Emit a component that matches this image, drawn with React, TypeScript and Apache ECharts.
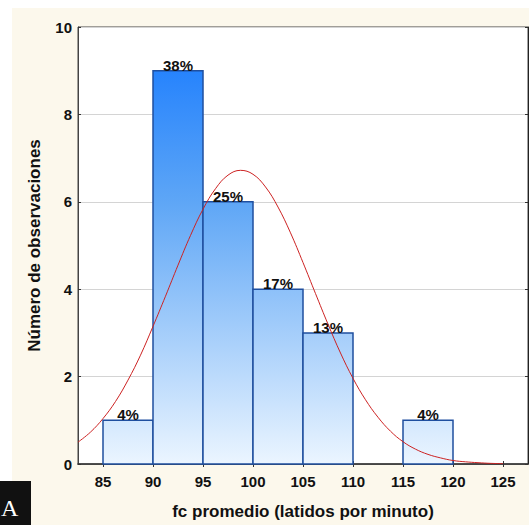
import React, { useEffect, useRef } from "react";
import * as echarts from "echarts";

const binLow = [85, 90, 95, 100, 105, 110, 115];
const binHigh = [90, 95, 100, 105, 110, 115, 120];
const counts = [1, 9, 6, 4, 3, 0, 1];
const pctLabels = ["4%", "38%", "25%", "17%", "13%", "", "4%"];
const xTicks = [85, 90, 95, 100, 105, 110, 115, 120, 125];
const curveX = [
  82.5, 83.75, 85, 86.25, 87.5, 88.75, 90, 91.25, 92.5, 93.75, 95, 96.25, 97.5, 98.75,
  100, 101.25, 102.5, 103.75, 105, 106.25, 107.5, 108.75, 110, 111.25, 112.5, 113.75,
  115, 116.25, 117.5, 118.75, 120, 121.25, 122.5, 123.75, 125,
];
const curveY = [
  0.5, 0.73, 1.04, 1.43, 1.92, 2.49, 3.15, 3.84, 4.55, 5.23, 5.83, 6.3, 6.61, 6.72,
  6.63, 6.34, 5.88, 5.29, 4.61, 3.9, 3.2, 2.54, 1.96, 1.47, 1.07, 0.75,
  0.51, 0.34, 0.22, 0.14, 0.08, 0.05, 0.03, 0.015, 0.008,
];

const FONT = "'Liberation Sans', Arial, sans-serif";

export default function App() {
  const ref = useRef<HTMLDivElement>(null);
  useEffect(() => {
    if (!ref.current) return;
    const chart = echarts.init(ref.current, null, { renderer: "svg" });
    const stops = [
      { offset: 0, color: "#1478ff" },
      { offset: 0.4, color: "#5ea6f6" },
      { offset: 1, color: "#ebf5ff" },
    ];
    const histData = binLow.map((lo, i) => [lo, binHigh[i], counts[i]]);
    const curveData = curveX.map((x, i) => [x, curveY[i]]);
    const axisLabelStyle = { fontFamily: FONT, fontWeight: "bold" as const, fontSize: 15, color: "#111" };
    chart.setOption({
      animation: false,
      backgroundColor: "#ffffff",
      graphic: [
        { type: "rect", shape: { x: 12, y: 8, width: 517, height: 517 }, style: { fill: "#fcf8ec" }, z: -10 },
        { type: "rect", shape: { x: 0, y: 481, width: 31, height: 44 }, style: { fill: "#111111" }, z: 10 },
        {
          type: "text", x: 1, y: 508, z: 11,
          style: { text: "A", fill: "#ffffff", font: "24px 'Liberation Serif', 'DejaVu Serif', serif", textAlign: "left", textVerticalAlign: "middle" },
        },
      ],
      grid: {
        left: 78, top: 27, right: 1, bottom: 61,
        show: true, backgroundColor: "#ffffff", borderColor: "#444", borderWidth: 1,
      },
      xAxis: [
        {
          type: "value", min: 82.5, max: 127.5, position: "bottom",
          name: "fc promedio (latidos por minuto)", nameLocation: "middle", nameGap: 39,
          nameTextStyle: { fontFamily: FONT, fontWeight: "bold", fontSize: 17, color: "#111" },
          axisLine: { show: true, lineStyle: { color: "#333", width: 1.5 } },
          axisTick: { show: true, inside: true, length: 3, customValues: xTicks, lineStyle: { color: "#333" } },
          axisLabel: { ...axisLabelStyle, margin: 10, customValues: xTicks },
          splitLine: { show: false },
        },
        {
          type: "value", min: 82.5, max: 127.5, position: "top",
          axisLine: { show: true, lineStyle: { color: "#444" } },
          axisTick: { show: true, inside: true, length: 3, customValues: xTicks, lineStyle: { color: "#333" } },
          axisLabel: { show: false },
          splitLine: { show: false },
        },
      ],
      yAxis: [
        {
          type: "value", min: 0, max: 10, interval: 2,
          name: "Número de observaciones", nameLocation: "middle", nameGap: 35,
          nameTextStyle: { fontFamily: FONT, fontWeight: "bold", fontSize: 17, color: "#111" },
          axisLine: { show: true, lineStyle: { color: "#444" } },
          axisTick: { show: true, inside: true, length: 3, lineStyle: { color: "#333" } },
          axisLabel: { ...axisLabelStyle, margin: 6 },
          splitLine: { show: true, lineStyle: { color: "#d4d4d4", width: 1 } },
        },
        {
          type: "value", min: 0, max: 10, interval: 2, position: "right",
          axisLine: { show: true, lineStyle: { color: "#222" } },
          axisTick: { show: true, inside: true, length: 3, lineStyle: { color: "#333" } },
          axisLabel: { show: false },
          splitLine: { show: false },
        },
      ],
      series: [
        {
          type: "custom",
          xAxisIndex: 0, yAxisIndex: 0,
          data: histData,
          z: 2,
          renderItem: (params: any, api: any) => {
            const lo = api.value(0);
            const hi = api.value(1);
            const n = api.value(2);
            if (!n) return null;
            const p0 = api.coord([lo, n]);
            const p1 = api.coord([hi, 0]);
            const yTop = api.coord([lo, 10])[1];
            const yBot = api.coord([lo, 0])[1];
            return {
              type: "group",
              children: [
                {
                  type: "rect",
                  shape: { x: p0[0], y: p0[1], width: p1[0] - p0[0], height: p1[1] - p0[1] },
                  style: {
                    fill: new echarts.graphic.LinearGradient(0, yTop, 0, yBot, stops, true),
                    stroke: "#1f4f9f",
                    lineWidth: 1.5,
                  },
                },
                {
                  type: "text",
                  x: (p0[0] + p1[0]) / 2,
                  y: p0[1] + 2,
                  z2: 20,
                  style: {
                    text: pctLabels[params.dataIndex],
                    textAlign: "center",
                    textVerticalAlign: "bottom",
                    font: `bold 15px ${FONT}`,
                    fill: "#111",
                  },
                },
              ],
            };
          },
        },
        {
          type: "line",
          xAxisIndex: 0, yAxisIndex: 0,
          data: curveData,
          smooth: 0.4,
          showSymbol: false,
          z: 3,
          lineStyle: { color: "#cc2222", width: 1 },
        },
      ],
    });
    return () => chart.dispose();
  }, []);
  return (
    <div style={{ position: "absolute", left: 0, top: 0, width: 529, height: 525 }}>
      <div ref={ref} style={{ width: 529, height: 525 }} />
    </div>
  );
}
